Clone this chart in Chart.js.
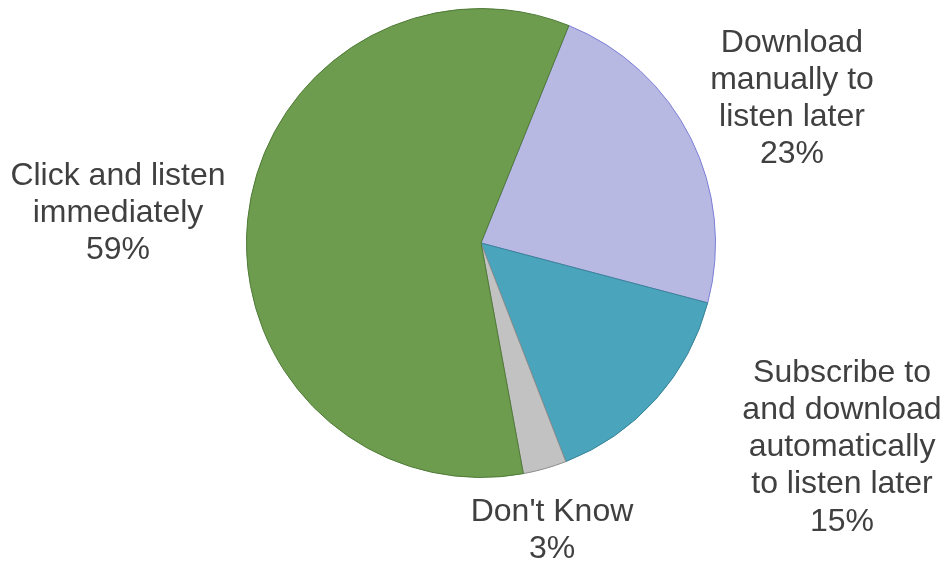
<!DOCTYPE html>
<html>
<head>
<meta charset="utf-8">
<script src="https://cdn.jsdelivr.net/npm/chart.js@4"></script>
<style>
	html, body { margin: 0; padding: 0; background: #ffffff; }
	#wrap { width: 942px; height: 562px; }
</style>
</head>
<body>
<div id="wrap"><canvas id="pieChart" width="942" height="562"></canvas></div>
<script>
// Pie Chart: How listeners use podcasts
const categories = [
	"Download manually to listen later",
	"Subscribe to and download automatically to listen later",
	"Don't Know",
	"Click and listen immediately",
];
const shares = [23, 15, 3, 59];
const labelLines = [
	["Download", "manually to", "listen later"],
	["Subscribe to", "and download", "automatically", "to listen later"],
	["Don't Know"],
	["Click and listen", "immediately"],
];
const labelAnchors = [
	[792, 43],
	[842, 373],
	[552, 512],
	[118, 176],
];

// draw the outside labels with their percentages
const outsideLabels = {
	id: "outsideLabels",
	afterDraw(chart) {
		const ctx = chart.ctx;
		ctx.save();
		ctx.font = "32px 'Liberation Sans', Arial, sans-serif";
		ctx.fillStyle = "#404040";
		ctx.textAlign = "center";
		ctx.textBaseline = "middle";
		labelLines.forEach((lines, i) => {
			const [x, y] = labelAnchors[i];
			const all = lines.concat([shares[i] + "%"]);
			all.forEach((t, j) => ctx.fillText(t, x, y + j * 37.2));
		});
		ctx.restore();
	},
};

const ctxPie = document.getElementById("pieChart");
new Chart(ctxPie, {
	type: "pie",
	data: {
		labels: categories,
		datasets: [
			{
				data: shares,
				backgroundColor: ["#b8b9e3", "#49a4bc", "#c2c2c2", "#6e9c4e"],
				borderColor: ["#7d80d6", "#3a8397", "#8e8e8e", "#4e7a36"],
				borderWidth: 1,
			},
		],
	},
	options: {
		responsive: false,
		animation: false,
		rotation: 22,
		layout: { padding: { left: 246, right: 226, top: 8, bottom: 84 } },
		plugins: {
			legend: { display: false },
			tooltip: { enabled: false },
		},
	},
	plugins: [outsideLabels],
});
</script>
</body>
</html>
